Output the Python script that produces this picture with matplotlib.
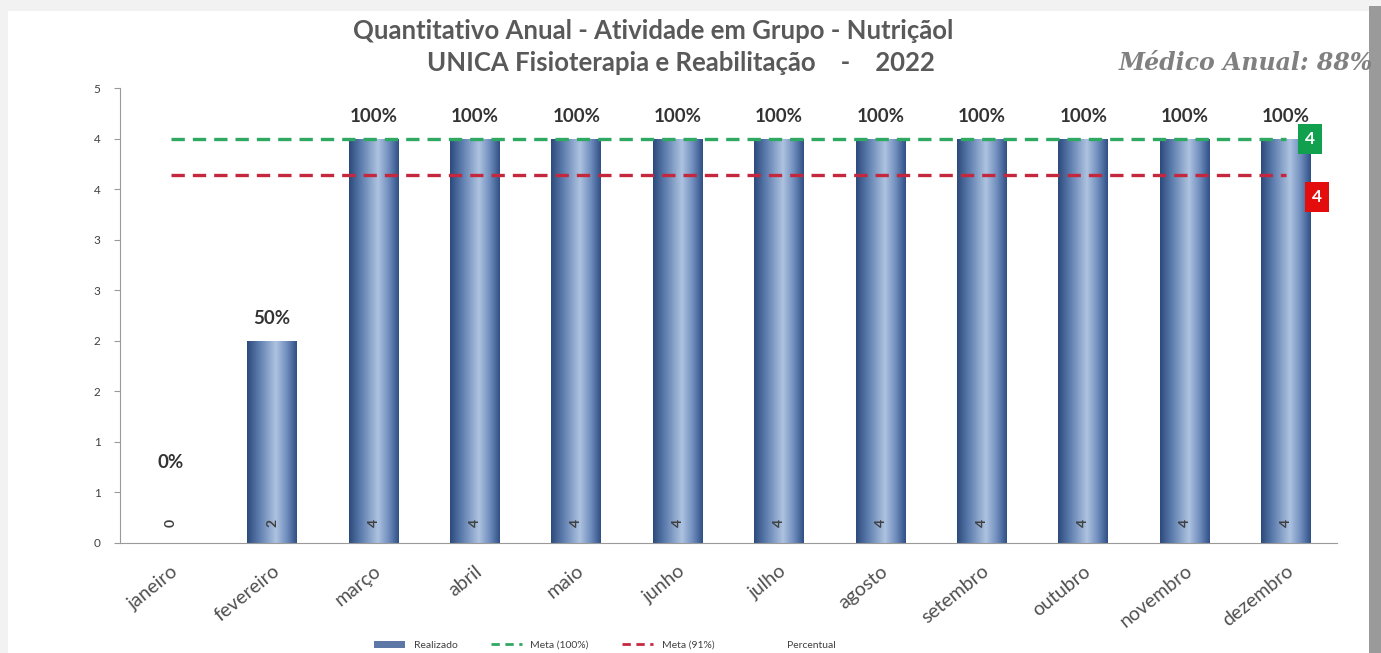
import numpy as np
import matplotlib
matplotlib.use("Agg")
import matplotlib.pyplot as plt
from matplotlib.colors import LinearSegmentedColormap
from matplotlib.patches import Rectangle
from matplotlib.lines import Line2D

meses = ['janeiro', 'fevereiro', 'março', 'abril', 'maio', 'junho', 'julho',
         'agosto', 'setembro', 'outubro', 'novembro', 'dezembro']
realizado = [0, 2, 4, 4, 4, 4, 4, 4, 4, 4, 4, 4]
meta_100 = [4] * 12
meta_91 = [3.64] * 12
percentual = ['0%', '50%', '100%', '100%', '100%', '100%', '100%', '100%',
              '100%', '100%', '100%', '100%']
y_ticks = [0, 0.5, 1, 1.5, 2, 2.5, 3, 3.5, 4, 4.5]
y_labels = ['0', '1', '1', '2', '2', '3', '3', '4', '4', '5']

fig = plt.figure(figsize=(13.81, 6.53), dpi=100)
fig.patch.set_facecolor('#f2f2f2')

# white frame and right shadow
fig.patches.append(Rectangle((8 / 1381, 0), (1369 - 8) / 1381, (653 - 11) / 653,
                             transform=fig.transFigure, facecolor='white',
                             edgecolor='none', zorder=-5))
fig.patches.append(Rectangle((1369 / 1381, 0), 12 / 1381, (653 - 6) / 653,
                             transform=fig.transFigure, facecolor='#9a9a9a',
                             edgecolor='none', zorder=-5))

ax = fig.add_axes([0.0869, 0.1685, 0.8811, 0.6965])
ax.set_facecolor('none')
x = np.arange(len(meses))

grad = LinearSegmentedColormap.from_list(
    'barra', [(0, '#2c4a7c'), (0.25, '#5f7fb0'), (0.58, '#aec3e0'),
              (0.8, '#6f8dbd'), (1, '#2f4f86')])
gimg = np.linspace(0, 1, 256).reshape(1, -1)
bars = ax.bar(x, realizado, width=0.49, facecolor='none', edgecolor='none', zorder=2)
for b in bars:
    if b.get_height() <= 0:
        continue
    im = ax.imshow(gimg, cmap=grad, aspect='auto', zorder=2,
                   extent=[b.get_x(), b.get_x() + b.get_width(), 0, b.get_height()])
    im.set_clip_path(b)

ax.plot(x, meta_100, color='#2fa862', lw=2.4, dashes=(4, 2.4), zorder=3)
ax.plot(x, meta_91, color='#c4283e', lw=2.4, dashes=(4, 2.4), zorder=3)

for i, v in enumerate(realizado):
    ax.text(x[i], 0.2, str(v), rotation=90, ha='center', va='center',
            fontsize=10, fontweight='bold', color='#404040', family='Lato', zorder=4)
    base = max(v, 0.58)
    ax.annotate(percentual[i], (x[i], base), xytext=(0, 16), textcoords='offset points',
                ha='center', va='center', fontsize=13.5, fontweight='bold',
                color='#333333', family='Lato', zorder=4)

ax.annotate(str(int(meta_100[-1])), (x[-1], meta_100[-1]), xytext=(17, 0),
            textcoords='offset points', ha='center', va='center', fontsize=12.5,
            fontweight='bold', color='white', family='Lato', zorder=5,
            bbox=dict(boxstyle='square,pad=0.4', fc='#11a04e', ec='none'))
ax.annotate(str(int(round(meta_91[-1]))), (x[-1], meta_91[-1]), xytext=(22, -16),
            textcoords='offset points', ha='center', va='center', fontsize=12.5,
            fontweight='bold', color='white', family='Lato', zorder=5,
            bbox=dict(boxstyle='square,pad=0.4', fc='#e30d0d', ec='none'))

ax.set_xlim(-0.5, len(meses) - 0.5)
ax.set_ylim(0, 4.5)
ax.set_yticks(y_ticks)
ax.set_yticklabels(y_labels, fontsize=8.5, color='#404040', family='Lato')
ax.set_xticks(x)
ax.set_xticklabels(meses, rotation=39, ha='right', rotation_mode='anchor',
                   fontsize=14, color='#505050', family='Lato')
ax.tick_params(axis='x', length=0, pad=14)
ax.tick_params(axis='y', length=4, color='#9a9a9a', pad=10)
for s in ['top', 'right']:
    ax.spines[s].set_visible(False)
for s in ['left', 'bottom']:
    ax.spines[s].set_color('#9a9a9a')

fig.text(0.473, 0.953, 'Quantitativo Anual - Atividade em Grupo - Nutriçãol',
         ha='center', va='center', fontsize=18.5, fontweight='bold', color='#595959',
         family='Lato')
fig.text(0.493, 0.903, 'UNICA Fisioterapia e Reabilitação    -    2022',
         ha='center', va='center', fontsize=18.5, fontweight='bold', color='#595959',
         family='Lato')
fig.text(0.994, 0.903, 'Médico Anual: 88%', ha='right', va='center', fontsize=17,
         fontweight='bold', style='italic', color='#808080', family='DejaVu Serif')

handles = [Rectangle((0, 0), 1, 1, fc='#5d78a6', ec='none'),
           Line2D([], [], color='#2fa862', lw=2, dashes=(3, 2)),
           Line2D([], [], color='#c4283e', lw=2, dashes=(3, 2)),
           Line2D([], [], color='none')]
fig.legend(handles, ['Realizado', 'Meta (100%)', 'Meta (91%)', 'Percentual'],
           loc='center', bbox_to_anchor=(0.438, 0.012), ncol=4, frameon=False,
           prop={'family': 'Lato', 'size': 7.5}, handlelength=3, columnspacing=3.2,
           labelcolor='#404040')

fig.savefig('out.png', dpi=100, facecolor=fig.get_facecolor())
